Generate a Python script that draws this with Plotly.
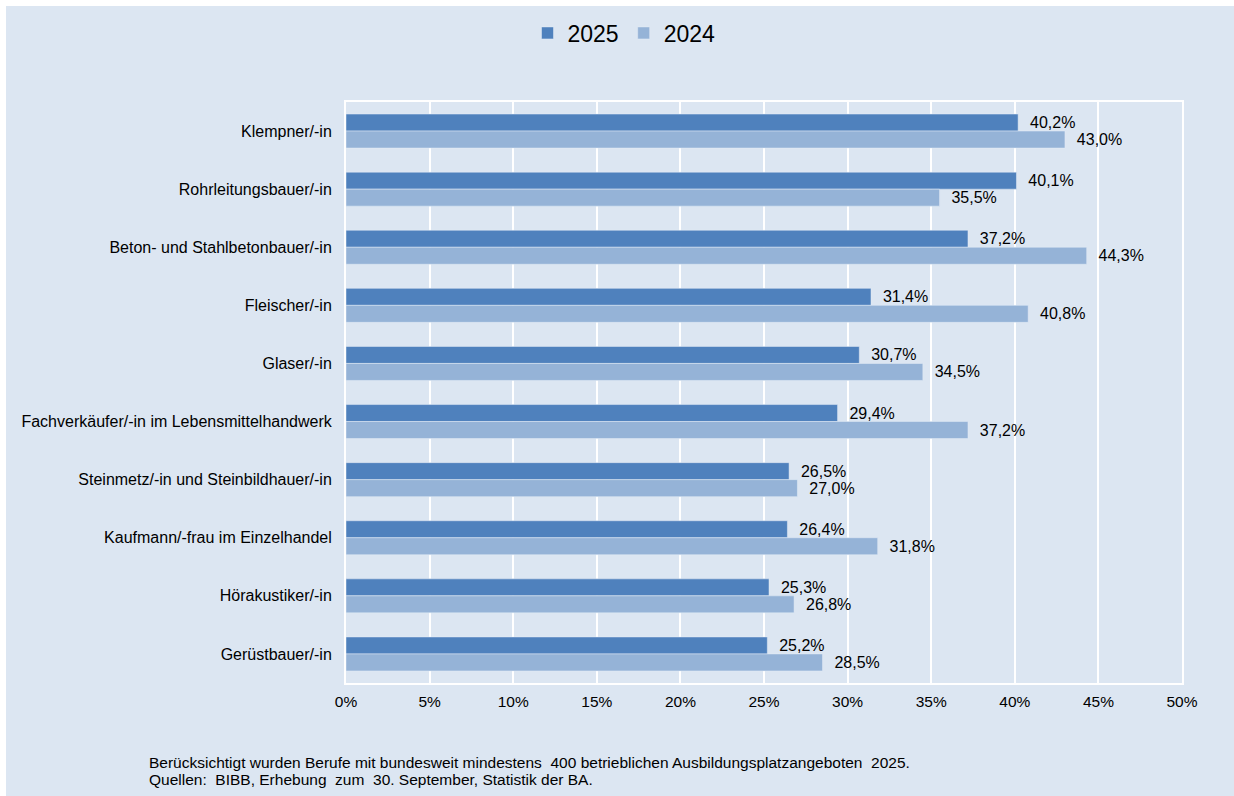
import plotly.graph_objects as go

berufe = ["Klempner/-in", "Rohrleitungsbauer/-in", "Beton- und Stahlbetonbauer/-in",
          "Fleischer/-in", "Glaser/-in", "Fachverkäufer/-in im Lebensmittelhandwerk",
          "Steinmetz/-in und Steinbildhauer/-in", "Kaufmann/-frau im Einzelhandel",
          "Hörakustiker/-in", "Gerüstbauer/-in"]
werte_2025 = [40.2, 40.1, 37.2, 31.4, 30.7, 29.4, 26.5, 26.4, 25.3, 25.2]
werte_2024 = [43.0, 35.5, 44.3, 40.8, 34.5, 37.2, 27.0, 31.8, 26.8, 28.5]
x_ticks = [0, 5, 10, 15, 20, 25, 30, 35, 40, 45, 50]
x_ticktext = ["0%", "5%", "10%", "15%", "20%", "25%", "30%", "35%", "40%", "45%", "50%"]

W, H = 1234, 796
ML, MR, MT, MB = 346, 52, 102, 113
PW, PH = W - ML - MR, H - MT - MB
BG = "#dce6f2"
FONT = "Liberation Sans, Arial, sans-serif"

def label(v):
    # german decimal comma, small gap to the bar end
    return "\u00a0\u00a0" + ("%.1f" % v).replace(".", ",") + "%"

fig = go.Figure()
fig.add_trace(go.Bar(y=berufe, x=werte_2025, name="2025", orientation="h",
                     marker_color="#4f81bd", text=[label(v) for v in werte_2025],
                     textposition="outside", cliponaxis=False,
                     textfont=dict(size=16, color="#000000")))
fig.add_trace(go.Bar(y=berufe, x=werte_2024, name="2024", orientation="h",
                     marker_color="#95b3d7", text=[label(v) for v in werte_2024],
                     textposition="outside", cliponaxis=False,
                     textfont=dict(size=16, color="#000000")))

# white strips on the left and top edge of the picture
fig.add_shape(type="rect", xref="paper", yref="paper", layer="below", line_width=0,
              fillcolor="white", x0=-ML / PW, x1=(6 - ML) / PW,
              y0=-MB / PH, y1=1 + MT / PH)
fig.add_shape(type="rect", xref="paper", yref="paper", layer="below", line_width=0,
              fillcolor="white", x0=-ML / PW, x1=1 + MR / PW,
              y0=1 + (MT - 6) / PH, y1=1 + MT / PH)

fig.add_annotation(xref="paper", yref="paper", x=(147 - ML) / PW, y=-(762 - H + MB) / PH,
                   xanchor="left", yanchor="middle", showarrow=False,
                   text="Berücksichtigt wurden Berufe mit bundesweit mindestens\u00a0 400 betrieblichen Ausbildungsplatzangeboten\u00a0 2025.",
                   font=dict(size=15.5, color="#000000"))
fig.add_annotation(xref="paper", yref="paper", x=(147 - ML) / PW, y=-(779 - H + MB) / PH,
                   xanchor="left", yanchor="middle", showarrow=False,
                   text="Quellen:\u00a0 BIBB, Erhebung\u00a0 zum\u00a0 30. September, Statistik der BA.",
                   font=dict(size=15.5, color="#000000"))

fig.update_layout(
    width=W, height=H,
    margin=dict(l=ML, r=MR, t=MT, b=MB, pad=0),
    paper_bgcolor=BG, plot_bgcolor=BG,
    font=dict(family=FONT, size=16, color="#000000"),
    barmode="group", bargap=0.415, bargroupgap=0,
    showlegend=True,
    legend=dict(orientation="h", x=(624 - ML) / PW, y=1 + (MT - 33) / PH,
                xanchor="center", yanchor="middle", font=dict(size=23),
                bgcolor="rgba(0,0,0,0)", itemwidth=30, traceorder="normal"),
    xaxis=dict(range=[0, 50], tickvals=x_ticks, ticktext=x_ticktext,
               showgrid=True, gridcolor="white", gridwidth=1.5,
               showline=True, linecolor="white", linewidth=2, mirror=True,
               zeroline=False, ticks="", tickfont=dict(size=15.5), ticklabelstandoff=3),
    yaxis=dict(autorange="reversed", showgrid=False,
               showline=True, linecolor="white", linewidth=2, mirror=True,
               ticks="", ticklabelstandoff=9, tickfont=dict(size=16)),
)

# drop the default page margin so the figure sits at the window corner
fig.write_html("out.html", config={"displayModeBar": False},
               post_script="document.body.style.margin='0';document.body.style.overflow='hidden';")
